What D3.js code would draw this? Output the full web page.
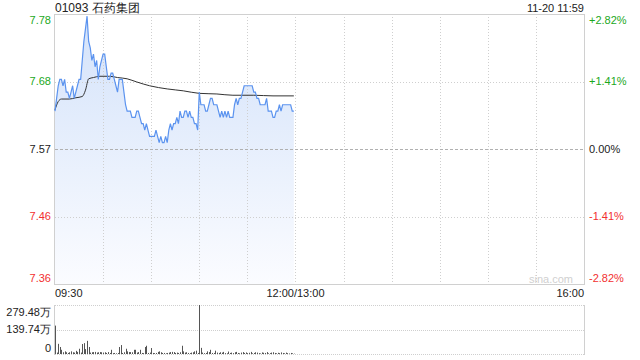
<!DOCTYPE html>
<html>
<head>
<meta charset="utf-8">
<script src="https://cdn.jsdelivr.net/npm/d3@7"></script>
<style>
  body { margin: 0; background: #fff; }
  svg { display: block; font-family: "Liberation Sans", Arial, sans-serif; }
</style>
</head>
<body>
<svg id="chart"></svg>
<script>
// 01093 石药集团 intraday, 1-minute data from 09:30 to 11:59
const stockTitle = "01093 石药集团";
const stampText = "11-20 11:59";
const prevClose = 7.57;
const maxPct = 2.82;

const prices = [
  7.63, 7.65, 7.67, 7.68, 7.68, 7.67, 7.68, 7.66, 7.66, 7.65,
  7.66, 7.67, 7.65, 7.66, 7.67, 7.68, 7.68, 7.71, 7.74, 7.76,
  7.78, 7.74, 7.73, 7.71, 7.72, 7.70, 7.71, 7.68, 7.70, 7.71,
  7.72, 7.72, 7.70, 7.68, 7.68, 7.69, 7.69, 7.68, 7.67, 7.66,
  7.68, 7.68, 7.68, 7.66, 7.64, 7.63, 7.63, 7.63, 7.62, 7.62,
  7.62, 7.63, 7.63, 7.62, 7.61, 7.61, 7.60, 7.61, 7.60, 7.59,
  7.59, 7.59, 7.59, 7.60, 7.59, 7.58, 7.59, 7.58, 7.58, 7.59,
  7.58, 7.60, 7.61, 7.60, 7.61, 7.61, 7.62, 7.61, 7.63, 7.62,
  7.62, 7.63, 7.63, 7.62, 7.63, 7.62, 7.62, 7.61, 7.61, 7.60,
  7.66, 7.64, 7.64, 7.64, 7.63, 7.63, 7.64, 7.65, 7.65, 7.64,
  7.64, 7.64, 7.63, 7.62, 7.63, 7.62, 7.63, 7.62, 7.63, 7.62,
  7.62, 7.62, 7.64, 7.65, 7.64, 7.65, 7.65, 7.66, 7.67, 7.67,
  7.67, 7.67, 7.67, 7.67, 7.66, 7.66, 7.65, 7.65, 7.64, 7.64,
  7.64, 7.64, 7.65, 7.63, 7.63, 7.63, 7.62, 7.62, 7.63, 7.63,
  7.64, 7.63, 7.64, 7.64, 7.64, 7.64, 7.64, 7.64, 7.63, 7.63
];

// average price line, read at selected minutes
const avgMinutes = [0, 2, 4, 9, 13, 17, 19, 21, 24, 28, 34, 39, 45, 51, 59, 70, 80, 90, 101, 111, 124, 136, 149];
const avgPrices = [7.632, 7.645, 7.649, 7.649, 7.651, 7.653, 7.663, 7.681, 7.683, 7.685, 7.685, 7.683, 7.681,
  7.676, 7.670, 7.665, 7.662, 7.658, 7.657, 7.655, 7.655, 7.654, 7.654];

// volume in 万 shares
const volumes = [
  162, 8, 58, 40, 24, 10, 15, 10, 6, 10,
  15, 10, 8, 18, 12, 30, 8, 57, 62, 28,
  75, 40, 8, 10, 11, 12, 8, 10, 11, 10,
  8, 10, 6, 11, 6, 24, 5, 6, 4, 6,
  40, 51, 6, 10, 30, 15, 11, 11, 10, 24,
  24, 8, 11, 24, 6, 5, 40, 47, 6, 8,
  34, 6, 5, 6, 12, 15, 10, 6, 6, 4,
  6, 8, 11, 12, 11, 6, 8, 6, 10, 47,
  15, 8, 10, 6, 5, 8, 10, 15, 19, 6,
  279.48, 35, 8, 5, 6, 15, 11, 24, 6, 6,
  19, 8, 6, 10, 8, 12, 5, 4, 14, 6,
  8, 5, 10, 12, 6, 4, 8, 11, 6, 9,
  5, 7, 12, 4, 6, 10, 8, 5, 3, 9,
  7, 6, 11, 4, 5, 8, 10, 6, 4, 7,
  5, 9, 6, 4, 8, 5, 3, 6, 4, 2
];
const volMax = 279.48;
const volTickLabels = ["279.48万", "139.74万", "0"];

const pctTicks = [2.82, 1.41, 0, -1.41, -2.82];
const timeTickLabels = ["09:30", "12:00/13:00", "16:00"];
const timeTickSlots = [0, 150, 330];
const totalSlots = 330;

const W = 640, H = 360;
const left = 55, right = 584;
const pTop = 14, pBottom = 284;
const vTop = 305, vBottom = 354;

const green = "#1ca81c", red = "#f23030", textDark = "#222";

const svg = d3.select("#chart").attr("width", W).attr("height", H);

const x = d3.scaleLinear().domain([0, totalSlots]).range([left, right]);
const y = d3.scaleLinear()
  .domain([prevClose * (1 - maxPct / 100), prevClose * (1 + maxPct / 100)])
  .range([pBottom, pTop]);
const yVol = d3.scaleLinear().domain([0, volMax]).range([vBottom, vTop]);

const defs = svg.append("defs");
const grad = defs.append("linearGradient")
  .attr("id", "fillGrad").attr("x1", 0).attr("y1", 0).attr("x2", 0).attr("y2", 1)
  .attr("gradientUnits", "userSpaceOnUse")
  .attr("y1", pTop).attr("y2", pBottom);
grad.append("stop").attr("offset", 0).attr("stop-color", "#d3e2fa");
grad.append("stop").attr("offset", 1).attr("stop-color", "#fbfcff");

// title row
svg.append("text").attr("x", left).attr("y", 8).attr("dy", "0.35em")
  .style("font-size", "12px").attr("fill", textDark).text(stockTitle);
svg.append("text").attr("x", right).attr("y", 8).attr("dy", "0.35em")
  .attr("text-anchor", "end").style("font-size", "11px").attr("fill", textDark).text(stampText);

// price area + lines
const area = d3.area()
  .x((d, i) => x(i)).y0(pBottom).y1(d => y(d));
svg.append("path").datum(prices).attr("d", area).attr("fill", "url(#fillGrad)");

// grid
const gridV = d3.range(1, 11).map(k => k * 30);
svg.append("g").selectAll("line").data(gridV).join("line")
  .attr("x1", d => Math.round(x(d)) + 0.5).attr("x2", d => Math.round(x(d)) + 0.5)
  .attr("y1", pTop).attr("y2", pBottom)
  .attr("stroke", "#cfcfcf").attr("stroke-dasharray", "1,2");
svg.append("g").selectAll("line").data(pctTicks.filter(p => Math.abs(p) !== maxPct)).join("line")
  .attr("x1", left).attr("x2", right)
  .attr("y1", d => Math.round(y(prevClose * (1 + d / 100))) + 0.5)
  .attr("y2", d => Math.round(y(prevClose * (1 + d / 100))) + 0.5)
  .attr("stroke", d => d === 0 ? "#b0b0b0" : "#cfcfcf")
  .attr("stroke-dasharray", d => d === 0 ? "3,2" : "1,2");

svg.append("rect").attr("x", left - 0.5).attr("y", pTop + 0.5)
  .attr("width", right - left + 1).attr("height", pBottom - pTop)
  .attr("fill", "none").attr("stroke", "#d0d0d0");

const avgLine = d3.line().x((d, i) => x(avgMinutes[i])).y(d => y(d)).curve(d3.curveMonotoneX);
svg.append("path").datum(avgPrices).attr("d", avgLine)
  .attr("fill", "none").attr("stroke", "#333").attr("stroke-width", 1);

const line = d3.line().x((d, i) => x(i)).y(d => y(d));
svg.append("path").datum(prices).attr("d", line)
  .attr("fill", "none").attr("stroke", "#5b93ef").attr("stroke-width", 1.2);

// price axis labels
pctTicks.forEach((p, i) => {
  const v = prevClose * (1 + p / 100);
  let yy = y(v);
  if (i === 0) yy += 6;
  if (i === pctTicks.length - 1) yy -= 6;
  const col = p > 0 ? green : (p < 0 ? red : textDark);
  svg.append("text").attr("x", 51).attr("y", yy).attr("dy", "0.35em")
    .attr("text-anchor", "end").style("font-size", "11px").attr("fill", col)
    .text(v.toFixed(2));
  svg.append("text").attr("x", 589).attr("y", yy).attr("dy", "0.35em")
    .style("font-size", "11px").attr("fill", col)
    .text((p > 0 ? "+" : "") + p.toFixed(2) + "%");
});

// watermark
svg.append("text").attr("x", 573).attr("y", 279).attr("dy", "0.35em")
  .attr("text-anchor", "end").style("font-size", "11px").attr("fill", "#d0d0d0").text("sina.com");

// time labels
timeTickLabels.forEach((t, i) => {
  svg.append("text").attr("x", x(timeTickSlots[i])).attr("y", 293).attr("dy", "0.35em")
    .attr("text-anchor", i === 0 ? "start" : (i === timeTickLabels.length - 1 ? "end" : "middle"))
    .style("font-size", "11px").attr("fill", textDark).text(t);
});

// volume panel
const volGrid = [volMax, volMax / 2, 0];
svg.append("g").selectAll("line").data(volGrid).join("line")
  .attr("x1", left).attr("x2", right)
  .attr("y1", d => Math.round(yVol(d)) + 0.5).attr("y2", d => Math.round(yVol(d)) + 0.5)
  .attr("stroke", "#cfcfcf").attr("stroke-dasharray", "1,1");
svg.append("line").attr("x1", left - 0.5).attr("x2", left - 0.5).attr("y1", vTop).attr("y2", vBottom + 1)
  .attr("stroke", "#d0d0d0");
svg.append("line").attr("x1", right + 0.5).attr("x2", right + 0.5).attr("y1", vTop).attr("y2", vBottom + 1)
  .attr("stroke", "#d0d0d0");

svg.append("g").selectAll("rect").data(volumes).join("rect")
  .attr("x", (d, i) => Math.round(x(i)))
  .attr("width", 1)
  .attr("y", d => yVol(d))
  .attr("height", d => vBottom - yVol(d))
  .attr("fill", "#555");

volTickLabels.forEach((t, i) => {
  let yy = yVol(volGrid[i]);
  if (i === 0) yy += 7;
  if (i === volTickLabels.length - 1) yy -= 6;
  svg.append("text").attr("x", 51).attr("y", yy).attr("dy", "0.35em")
    .attr("text-anchor", "end").style("font-size", "11px").attr("fill", textDark).text(t);
});
</script>
</body>
</html>
